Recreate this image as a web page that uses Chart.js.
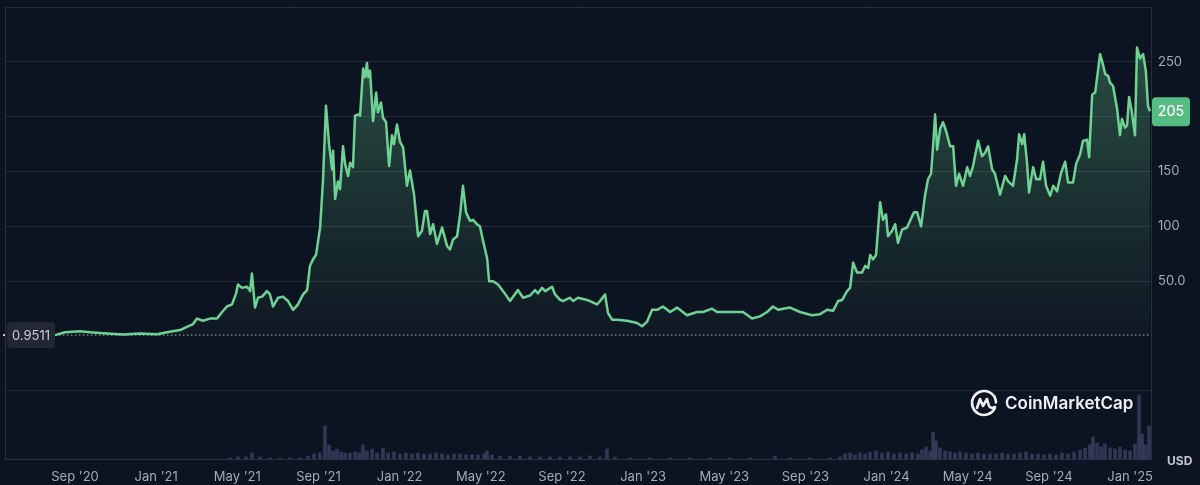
<!DOCTYPE html>
<html lang="en">
<head>
  <meta charset="UTF-8" />
  <title>Price chart</title>
  <script src="https://cdn.jsdelivr.net/npm/chart.js"></script>
  <style>
    html, body { margin: 0; padding: 0; background: #0d1421; }
    #wrap { width: 1200px; height: 485px; position: relative; }
  </style>
</head>
<body>
  <div id="wrap"><canvas id="priceChart"></canvas></div>

  <script>
    // x values are months counted from Jan 2020 (8 = Sep '20, 60 = Jan '25)
    const priceMonths = [
      7.01, 7.51, 8.25, 8.74, 9.58, 10.37, 11.20, 12.04, 12.53, 13.18, 13.52, 13.82, 14.01, 14.31, 14.65, 15.00,
      15.25, 15.49, 15.74, 15.94, 16.03, 16.23, 16.48, 16.63, 16.72, 16.87, 17.02, 17.22, 17.46, 17.61, 17.76,
      18.01, 18.25, 18.50, 18.75, 18.99, 19.24, 19.44, 19.58, 19.73, 19.88, 20.08, 20.22, 20.37, 20.52, 20.67,
      20.72, 20.82, 20.96, 21.06, 21.21, 21.31, 21.46, 21.56, 21.70, 21.80, 21.95, 22.05, 22.20, 22.29, 22.39,
      22.44, 22.54, 22.69, 22.84, 22.93, 23.08, 23.18, 23.33, 23.48, 23.62, 23.72, 23.87, 24.02, 24.17, 24.36,
      24.51, 24.71, 24.91, 25.10, 25.25, 25.35, 25.50, 25.65, 25.84, 26.09, 26.34, 26.48, 26.63, 26.83, 26.98,
      27.12, 27.27, 27.47, 27.62, 27.81, 27.96, 28.11, 28.31, 28.41, 28.60, 28.85, 29.10, 29.44, 29.83, 30.08,
      30.43, 30.67, 30.82, 31.02, 31.17, 31.51, 31.66, 31.91, 32.05, 32.40, 32.55, 32.79, 33.24, 33.73, 33.88,
      34.12, 34.27, 34.47, 34.71, 35.21, 35.70, 35.95, 36.19, 36.44, 36.69, 36.98, 37.33, 37.67, 38.16, 38.66,
      38.95, 39.40, 39.64, 40.28, 40.92, 41.37, 41.76, 42.11, 42.40, 42.65, 43.24, 43.73, 44.32, 44.72, 45.07,
      45.36, 45.61, 45.81, 46.05, 46.20, 46.35, 46.54, 46.79, 46.94, 47.09, 47.19, 47.33, 47.48, 47.68, 47.82,
      47.97, 48.07, 48.27, 48.42, 48.56, 48.76, 49.01, 49.15, 49.35, 49.50, 49.70, 49.89, 50.04, 50.19, 50.29,
      50.39, 50.49, 50.64, 50.78, 50.93, 51.13, 51.28, 51.42, 51.57, 51.77, 51.97, 52.11, 52.26, 52.51, 52.70,
      52.85, 53.00, 53.20, 53.34, 53.59, 53.84, 53.99, 54.23, 54.43, 54.53, 54.68, 54.78, 54.92, 55.02, 55.22,
      55.37, 55.56, 55.71, 55.86, 56.06, 56.21, 56.40, 56.60, 56.80, 56.94, 57.19, 57.34, 57.54, 57.68, 57.88,
      57.98, 58.13, 58.28, 58.52, 58.67, 58.77, 58.92, 59.01, 59.16, 59.36, 59.50, 59.60, 59.75, 59.85, 59.95,
      60.09, 60.24, 60.34, 60.49, 60.64, 60.78, 60.88, 60.98
    ];
    const prices = [
      0.9511, 3.5, 4.5, 3.5, 2.5, 1.5, 2.5, 1.8, 3.5, 5.5, 8.5, 11, 16, 14, 16, 16,
      22, 27, 29, 39, 47, 44, 45, 41, 57, 26, 35, 36, 41, 38, 27,
      35, 36, 32, 24, 29, 38, 42, 64, 70, 74, 99, 141, 210, 175, 152,
      169, 125, 141, 134, 173, 157, 146, 158, 154, 201, 202, 201, 244, 236, 249,
      236, 242, 196, 222, 204, 213, 199, 195, 155, 183, 175, 193, 177, 172, 137,
      151, 129, 91, 96, 114, 114, 93, 102, 84, 99, 82, 79, 88, 91, 111,
      137, 113, 105, 106, 102, 100, 87, 71, 50, 50, 47, 41, 32, 42, 35,
      37, 42, 39, 44, 41, 45, 38, 33, 32, 35, 32, 35, 33, 29, 32,
      38, 21, 15, 15, 14, 12, 9, 13, 24, 24, 27, 22, 26, 19, 22,
      22, 25, 22, 22, 22, 16, 18, 22, 27, 24, 26, 22, 19, 20, 24,
      23, 32, 33, 41, 44, 67, 58, 58, 64, 62, 74, 70, 74, 122, 106,
      111, 91, 96, 102, 85, 97, 99, 105, 113, 113, 100, 128, 143, 148, 173,
      202, 170, 189, 195, 187, 173, 173, 137, 148, 137, 154, 146, 155, 178, 164,
      167, 173, 152, 148, 129, 146, 141, 137, 161, 184, 175, 184, 158, 131, 154,
      143, 143, 159, 137, 128, 137, 132, 149, 159, 140, 140, 157, 166, 178, 179,
      163, 220, 222, 257, 247, 239, 237, 231, 228, 207, 183, 198, 190, 192, 218,
      204, 183, 263, 253, 257, 241, 210, 205
    ];

    // volume pane, relative units
    const volMonths = [
      15.64, 16.03, 16.43, 16.72, 17.12, 17.61, 18.10, 18.60, 19.09, 19.48, 19.78, 20.07, 20.32, 20.52, 20.72,
      20.91, 21.11, 21.31, 21.55, 21.80, 22.00, 22.19, 22.39, 22.64, 22.88, 23.18, 23.43, 23.72, 24.02, 24.31,
      24.61, 24.90, 25.20, 25.50, 25.79, 26.09, 26.38, 26.68, 26.98, 27.27, 27.57, 27.86, 28.16, 28.31, 28.55,
      28.95, 29.44, 29.93, 30.43, 30.92, 31.41, 31.90, 32.40, 32.89, 33.38, 33.87, 34.22, 34.61, 35.35, 36.34,
      37.32, 38.31, 39.30, 40.28, 41.27, 42.50, 43.24, 44.22, 45.21, 45.70, 45.95, 46.20, 46.44, 46.69, 46.94,
      47.18, 47.48, 47.77, 48.07, 48.36, 48.66, 48.96, 49.25, 49.55, 49.74, 49.94, 50.14, 50.29, 50.43, 50.63,
      50.88, 51.12, 51.37, 51.62, 51.91, 52.21, 52.50, 52.80, 53.10, 53.39, 53.69, 53.98, 54.28, 54.57, 54.87,
      55.17, 55.46, 55.76, 56.05, 56.35, 56.64, 56.94, 57.24, 57.53, 57.78, 58.02, 58.17, 58.37, 58.57, 58.76,
      59.01, 59.26, 59.50, 59.75, 60.00, 60.24, 60.44, 60.59, 60.74, 60.93
    ];
    const volumes = [
      1, 2, 2, 6, 2, 1, 1, 1, 1, 3, 5, 6, 33, 14, 8,
      10, 7, 6, 6, 7, 6, 14, 8, 10, 6, 11, 6, 7, 5, 6,
      5, 6, 5, 5, 6, 5, 4, 5, 5, 4, 4, 4, 5, 8, 4,
      3, 3, 3, 2, 2, 2, 2, 2, 2, 3, 2, 10, 2, 1, 1,
      1, 1, 1, 1, 1, 3, 1, 1, 1, 2, 5, 6, 4, 6, 5,
      7, 8, 6, 7, 5, 6, 5, 6, 5, 9, 12, 8, 27, 18, 11,
      8, 7, 6, 7, 6, 5, 6, 5, 5, 5, 6, 5, 5, 6, 7,
      5, 5, 4, 5, 4, 6, 5, 7, 9, 11, 14, 22, 16, 12, 15,
      11, 10, 12, 9, 8, 15, 64, 25, 14, 33
    ];

    const tickMonths = [8, 12, 16, 20, 24, 28, 32, 36, 40, 44, 48, 52, 56, 60];
    const tickLabels = ["Sep '20", "Jan '21", "May '21", "Sep '21", "Jan '22", "May '22", "Sep '22",
                        "Jan '23", "May '23", "Sep '23", "Jan '24", "May '24", "Sep '24", "Jan '25"];
    const priceTicks = [-50, 0, 50, 100, 150, 200, 250, 300];
    const priceTickLabels = ['', '', '50.0', '100', '150', '', '250', ''];

    const startPrice = prices[0];
    const lastPrice = prices[prices.length - 1];

    const lineGreen = '#6dd293';
    const labelGrey = '#a4a9b8';
    const gridColor = '#252a37';

    const overlay = {
      id: 'overlay',
      beforeDatasetsDraw(chart) {
        const { ctx, chartArea: a, scales } = chart;
        const y0 = scales.y.getPixelForValue(startPrice);
        const x0 = scales.x.getPixelForValue(priceMonths[0]);
        ctx.save();
        ctx.strokeStyle = 'rgba(220,224,232,0.75)';
        ctx.lineWidth = 1;
        ctx.setLineDash([1.5, 2.5]);
        ctx.beginPath();
        ctx.moveTo(x0, y0);
        ctx.lineTo(a.right, y0);
        ctx.stroke();
        ctx.restore();
      },
      afterDraw(chart) {
        const { ctx, chartArea: a, scales } = chart;
        ctx.save();
        // frame
        ctx.strokeStyle = '#2a2e3b';
        ctx.lineWidth = 1;
        ctx.beginPath();
        ctx.moveTo(a.left + 0.5, a.bottom);
        ctx.lineTo(a.left + 0.5, a.top + 0.5);
        ctx.lineTo(a.right, a.top + 0.5);
        ctx.stroke();

        // start price badge
        const ys = scales.y.getPixelForValue(startPrice);
        ctx.fillStyle = '#232734';
        ctx.beginPath();
        ctx.roundRect(7, ys - 13, 48, 26, 4);
        ctx.fill();
        ctx.fillStyle = '#d0d3dc';
        ctx.beginPath();
        ctx.arc(4, ys, 1.2, 0, Math.PI * 2);
        ctx.fill();
        ctx.font = '13px Inter, "Noto Sans", sans-serif';
        ctx.textAlign = 'center';
        ctx.textBaseline = 'middle';
        ctx.fillStyle = '#c9ccd6';
        ctx.fillText(String(startPrice), 31, ys + 1);

        // last price badge
        const yl = scales.y.getPixelForValue(lastPrice);
        ctx.fillStyle = '#55bd83';
        ctx.beginPath();
        ctx.roundRect(a.right + 1, yl - 14, 38, 29, 4);
        ctx.fill();
        ctx.fillStyle = '#ffffff';
        ctx.font = '500 14px Inter, "Noto Sans", sans-serif';
        ctx.fillText(String(lastPrice), a.right + 20, yl + 1);

        // currency
        ctx.fillStyle = '#c3c7d1';
        ctx.font = 'bold 12px Inter, "Noto Sans", sans-serif';
        ctx.textAlign = 'left';
        ctx.fillText('USD', a.right + 16, a.bottom + 2);

        // watermark
        const cx = 984, cy = 403;
        ctx.strokeStyle = '#eef0f4';
        ctx.lineWidth = 2.6;
        ctx.lineCap = 'round';
        ctx.lineJoin = 'round';
        ctx.beginPath();
        ctx.arc(cx, cy, 12, 0.45, Math.PI * 2 - 0.05);
        ctx.stroke();
        ctx.beginPath();
        ctx.moveTo(cx - 7, cy + 5);
        ctx.lineTo(cx - 4, cy - 4);
        ctx.lineTo(cx - 1, cy + 3);
        ctx.lineTo(cx + 3, cy - 4);
        ctx.lineTo(cx + 5, cy + 3);
        ctx.quadraticCurveTo(cx + 7, cy + 6, cx + 11, cy + 4);
        ctx.stroke();
        ctx.fillStyle = '#eef0f4';
        ctx.font = '600 17px Inter, "Noto Sans", sans-serif';
        ctx.textAlign = 'left';
        ctx.fillText('CoinMarketCap', 1005, cy + 1);
        ctx.restore();
      }
    };

    const ctx = document.getElementById('priceChart').getContext('2d');
    new Chart(ctx, {
      data: {
        datasets: [
          {
            type: 'line',
            label: 'Price',
            data: priceMonths.map((m, i) => ({ x: m, y: prices[i] })),
            borderColor: lineGreen,
            borderWidth: 2.5,
            borderJoinStyle: 'round',
            pointRadius: 0,
            tension: 0,
            fill: 'origin',
            backgroundColor: (c) => {
              const area = c.chart.chartArea;
              if (!area) return 'rgba(0,0,0,0)';
              const g = c.chart.ctx.createLinearGradient(0, 50, 0, 340);
              g.addColorStop(0, 'rgba(106,207,144,0.30)');
              g.addColorStop(1, 'rgba(106,207,144,0.02)');
              return g;
            },
            yAxisID: 'y',
            order: 1
          },
          {
            type: 'bar',
            label: 'Volume',
            data: volMonths.map((m, i) => ({ x: m, y: volumes[i] })),
            backgroundColor: 'rgba(72,78,120,0.6)',
            barThickness: 3,
            yAxisID: 'yv',
            order: 2
          }
        ]
      },
      options: {
        responsive: true,
        maintainAspectRatio: false,
        animation: false,
        layout: { padding: { left: 5, top: 7, right: 0, bottom: 0 } },
        plugins: { legend: { display: false }, tooltip: { enabled: false } },
        scales: {
          x: {
            type: 'linear',
            offset: false,
            min: 4.55,
            max: 61.03,
            grid: { display: false },
            border: { display: true, color: '#2d3242' },
            afterBuildTicks: (s) => { s.ticks = tickMonths.map(v => ({ value: v })); },
            afterFit: (s) => { s.height = 26; },
            ticks: {
              color: labelGrey,
              font: { family: 'Inter, "Noto Sans", sans-serif', size: 13 },
              padding: 2,
              maxRotation: 0,
              autoSkip: false,
              callback: (v) => tickLabels[tickMonths.indexOf(v)]
            }
          },
          y: {
            position: 'right',
            min: -112,
            max: 300,
            afterBuildTicks: (s) => { s.ticks = priceTicks.map(v => ({ value: v })); },
            afterFit: (s) => { s.width = 49; s.paddingTop = 0; s.paddingBottom = 0; },
            grid: {
              drawTicks: false,
              color: (c) => (c.tick && c.tick.value === 0) ? 'rgba(0,0,0,0)' : gridColor
            },
            border: { display: true, color: '#2a2e3b' },
            ticks: {
              color: labelGrey,
              padding: 7,
              font: { family: 'Inter, "Noto Sans", sans-serif', size: 13 },
              callback: (v) => priceTickLabels[priceTicks.indexOf(v)]
            }
          },
          yv: {
            display: false,
            min: 0,
            max: 452
          }
        }
      },
      plugins: [overlay]
    });
  </script>
</body>
</html>
